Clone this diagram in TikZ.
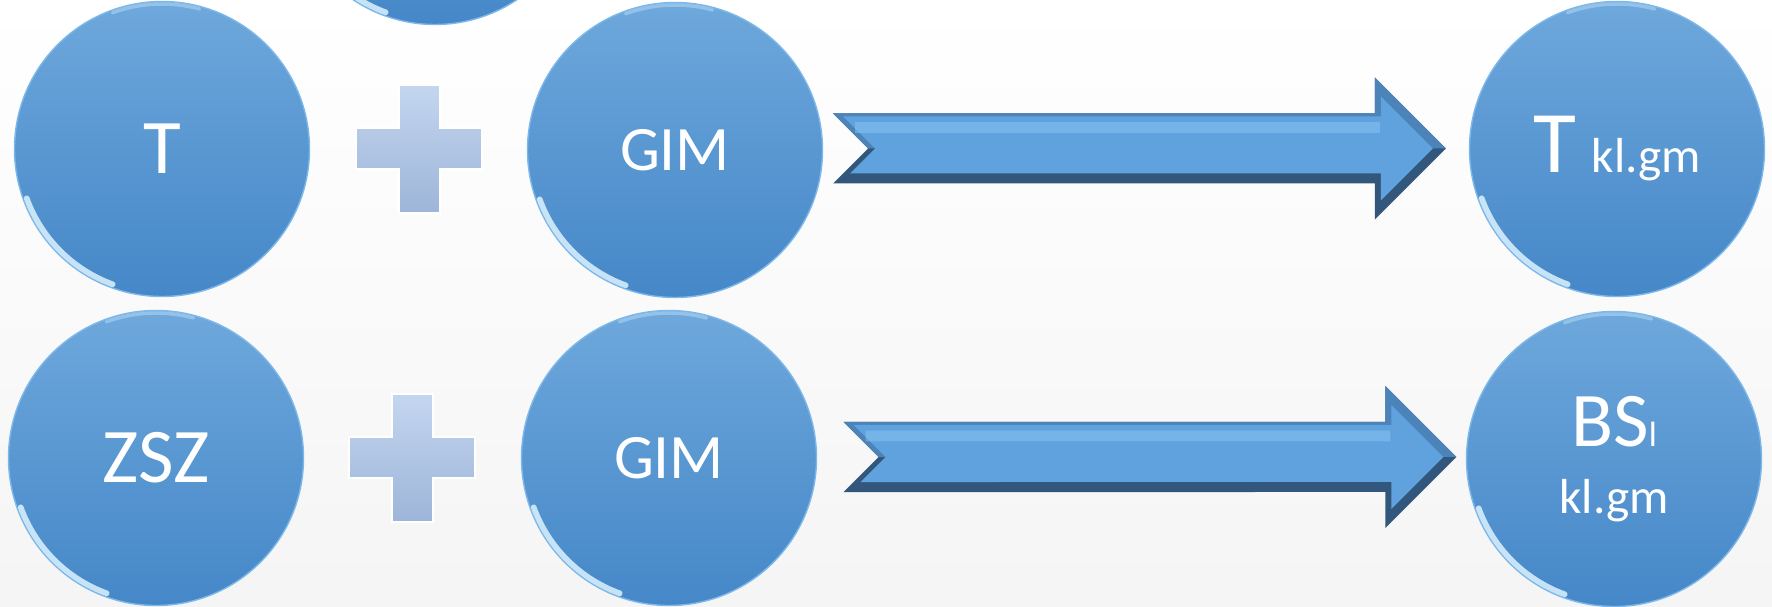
\documentclass[tikz,border=0pt]{standalone}
\usepackage{fontspec}
\setmainfont{Carlito}
\usepackage{tikz}
\usetikzlibrary{positioning}
\usetikzlibrary{calc}
\usepackage{xcolor}

\definecolor{bubbletop}{HTML}{6EA8DC}
\definecolor{bubblebot}{HTML}{4587C8}
\definecolor{bubblerim}{HTML}{7DB8EA}
\definecolor{rimshine}{HTML}{DDF3FF}
\definecolor{arrowmain}{HTML}{5FA2DD}
\definecolor{arrowmid}{HTML}{4C83B8}
\definecolor{arrowdark}{HTML}{33577C}
\definecolor{arrowshine}{HTML}{8FCBF7}
\definecolor{plustop}{HTML}{C4D6EF}
\definecolor{plusbot}{HTML}{9DB5D9}

\tikzset{
  bubble/.style={circle, minimum size=2.95cm, inner sep=0pt, top color=bubbletop, bottom color=bubblebot, draw=bubblerim, line width=0.4pt, text=white, font=\fontsize{22}{26}\selectfont, align=center},
  rimlight/.style={rimshine, opacity=0.85, line width=1.6pt, line cap=round},
  plusbox/.style={top color=plustop, bottom color=plusbot, draw=white, line width=0.6pt}
}

% block arrow from tail coordinate #1 to tip coordinate #2
\newcommand{\bigarrow}[2]{%
\fill[arrowdark] ($(#1)+(0,0.35)$) -- ($(#2)+(-0.71,0.35)$) -- ($(#2)+(-0.71,0.71)$) -- (#2) -- ($(#2)+(-0.71,-0.71)$) -- ($(#2)+(-0.71,-0.35)$) -- ($(#1)+(0,-0.35)$) -- ($(#1)+(0.35,0)$) -- cycle;
\fill[arrowmid] ($(#1)+(0,0.35)$) -- ($(#2)+(-0.71,0.35)$) -- ($(#2)+(-0.71,0.71)$) -- (#2) -- ($(#1)+(0.35,0)$) -- cycle;
\fill[arrowmain] ($(#1)+(0.10,0.32)$) -- ($(#2)+(-0.65,0.32)$) -- ($(#2)+(-0.65,0.52)$) -- ($(#2)+(-0.13,0)$) -- ($(#2)+(-0.65,-0.52)$) -- ($(#2)+(-0.65,-0.25)$) -- ($(#1)+(0.17,-0.25)$) -- ($(#1)+(0.42,0)$) -- cycle;
\draw[arrowshine, line width=3pt, opacity=0.45] ($(#1)+(0.22,0.21)$) -- ($(#2)+(-0.66,0.21)$);
}

\begin{document}
\begin{tikzpicture}

\useasboundingbox (0,0) rectangle (17.72,6.06);
\clip (0,0) rectangle (17.72,6.06);
\shade[top color=white, bottom color=black!4] (0,0) rectangle (17.72,6.06);

% circles
\node[bubble] (topc) at (4.35,7.29) {};
\node[bubble] (tA) at (1.62,4.57) {T};
\node[bubble, font=\fontsize{18}{22}\selectfont] (gimA) at (6.75,4.56) {GIM};
\node[bubble] (tkl) at (16.17,4.57) {{\fontsize{25}{30}\selectfont T}\hspace{0.16cm}{\fontsize{14}{17}\selectfont kl.gm}};

\node[bubble] (zsz) at (1.56,1.48) {ZSZ};
\node[bubble, font=\fontsize{18}{22}\selectfont] (gimB) at (6.69,1.48) {GIM};
\node[bubble, font=\fontsize{14}{19}\selectfont] (bs) at (16.14,1.47) {{\fontsize{22}{26}\selectfont BS{\fontsize{10}{12}\selectfont l}}\\kl.gm};

\foreach \n in {topc,tA,gimA,tkl,zsz,gimB,bs}{
\draw[rimlight] (\n.center) ++(200:1.44) arc (200:250:1.44);
\draw[rimlight, opacity=0.35, line width=1pt] (\n.center) ++(75:1.45) arc (75:110:1.45);
}

% plus signs
\draw[plusbox] (3.99,5.21) --++(0.41,0) --++(0,-0.43) --++(0.42,0) --++(0,-0.41) --++(-0.42,0) --++(0,-0.44) --++(-0.41,0) --++(0,0.44) --++(-0.43,0) --++(0,0.41) --++(0.43,0) -- cycle;
\draw[plusbox] (3.92,2.12) --++(0.41,0) --++(0,-0.43) --++(0.42,0) --++(0,-0.41) --++(-0.42,0) --++(0,-0.44) --++(-0.41,0) --++(0,0.44) --++(-0.43,0) --++(0,0.41) --++(0.43,0) -- cycle;

% arrows
\coordinate (a1tail) at ($(gimA.east)+(0.1,0.015)$);
\coordinate (a1tip) at ($(tkl.west)+(-0.23,0.005)$);
\bigarrow{a1tail}{a1tip}

\coordinate (a2tail) at ($(gimB.east)+(0.265,0.01)$);
\coordinate (a2tip) at ($(bs.west)+(-0.095,0.02)$);
\bigarrow{a2tail}{a2tip}

\end{tikzpicture}
\end{document}
